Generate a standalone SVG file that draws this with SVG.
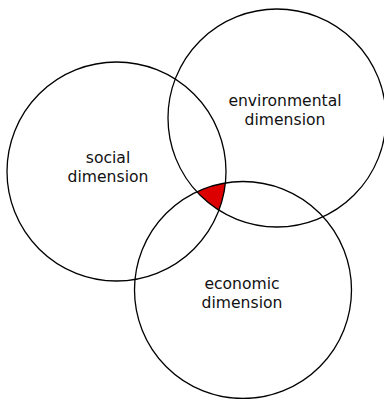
<svg xmlns="http://www.w3.org/2000/svg" width="384" height="399" viewBox="0 0 384 399">
<style>
.ring{fill:none;stroke:#000;stroke-width:1.3}
.lbl{font-family:"DejaVu Sans","Open Sans",sans-serif;font-size:15.6px;fill:#111;text-anchor:middle}
</style>
<defs>
<clipPath id="cEnv"><circle cx="277" cy="118" r="109"/></clipPath>
<clipPath id="cEco"><circle cx="243" cy="290" r="108.5"/></clipPath>
</defs>
<rect width="384" height="399" fill="#fff"/>
<g id="overlap" clip-path="url(#cEnv)">
<circle cx="116.5" cy="171.5" r="109.5" fill="#dd0000" clip-path="url(#cEco)"/>
</g>
<g id="social">
<circle class="ring" cx="116.5" cy="171.5" r="109.5"/>
<text class="lbl" x="108" y="163">social</text>
<text class="lbl" x="108" y="182">dimension</text>
</g>
<g id="environmental">
<circle class="ring" cx="277" cy="118" r="109"/>
<text class="lbl" x="285" y="106">environmental</text>
<text class="lbl" x="285" y="125">dimension</text>
</g>
<g id="economic">
<circle class="ring" cx="243" cy="290" r="108.5"/>
<text class="lbl" x="242" y="289">economic</text>
<text class="lbl" x="242" y="308">dimension</text>
</g>
<g id="connectors"/>
</svg>
